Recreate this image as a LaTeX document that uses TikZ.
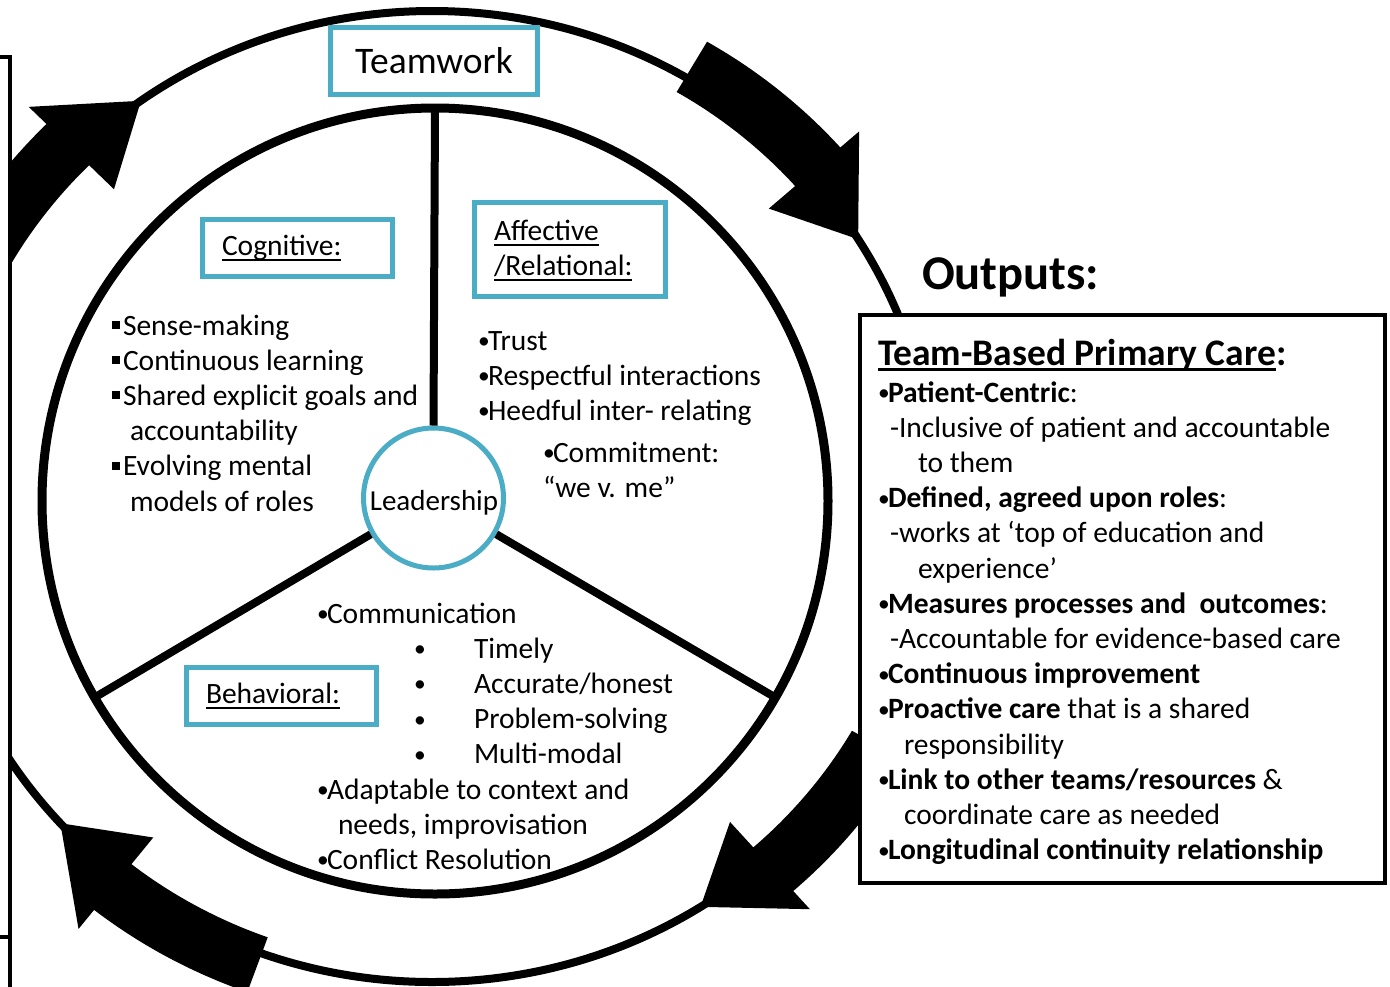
\documentclass[tikz,border=0pt]{standalone}
\usepackage{fontspec}
\setmainfont{Carlito}
\definecolor{frameblue}{HTML}{4BACC6}

% geometry of the outer cycle (ellipse centre and radii, in pt)
\def\ecx{432}
\def\ecy{496.5}
\def\erx{502.5}
\def\ery{485.5}
% radial scales: arrow body (inner/outer) and arrow head wings (inner/outer)
\def\bi{0.965}
\def\bo{1.085}
\def\wi{0.895}
\def\wo{1.135}

\newcommand\bodyfont{\fontsize{29.5pt}{35.2pt}\selectfont}
\newcommand\rows[1]{\begin{tabular}[t]{@{}l@{}}#1\end{tabular}}
\newcommand\sqb{\rule[6pt]{8pt}{8pt}\hspace{3pt}}
\newcommand\bul{\makebox[10pt][l]{\fontsize{23.5pt}{23.5pt}\selectfont\raisebox{1.5pt}{•}}}
\newcommand\undl[2][2pt]{\setbox0=\hbox{#2}\rlap{\rule[-5.5pt]{\wd0}{#1}}\box0}

% curved block arrow running clockwise along the outer cycle:
% #1 tail angle, #2 angle of the head base, #3 angle of the tip
\newcommand\ringarrow[3]{%
  \fill[black]
    plot[domain=#1:#2,samples=30] ({\ecx+\bo*\erx*cos(\x)},{\ecy+\bo*\ery*sin(\x)})
    -- ({\ecx+\wo*\erx*cos(#2)},{\ecy+\wo*\ery*sin(#2)})
    -- ({\ecx+\erx*cos(#3)},{\ecy+\ery*sin(#3)})
    -- ({\ecx+\wi*\erx*cos(#2)},{\ecy+\wi*\ery*sin(#2)})
    -- plot[domain=#2:#1,samples=30] ({\ecx+\bi*\erx*cos(\x)},{\ecy+\bi*\ery*sin(\x)})
    -- cycle;}

\tikzset{
  cbox/.style={rectangle, draw=frameblue, line width=5pt, fill=white, inner sep=0pt, outer sep=0pt},
  txt/.style={inner sep=0pt, outer sep=0pt, anchor=base west, font=\bodyfont},
  spoke/.style={line width=8pt},
  framebox/.style={rectangle, draw=black, fill=white, inner sep=0pt, outer sep=0pt},
}

\begin{document}
\begin{tikzpicture}[x=1pt,y=-1pt]
\fill[white] (0,0) rectangle (1390,986);
\useasboundingbox (0,0) rectangle (1390,986);

% outer cycle and its four arrows
\draw[line width=8pt] (\ecx,\ecy) ellipse [x radius=502.5pt, y radius=485.5pt];
\ringarrow{-59.7}{-41.5}{-32}
\ringarrow{-153}{-135}{-125.4}
\ringarrow{109.8}{128.3}{137.7}
\ringarrow{30}{48.5}{57.7}

% boxes on either side
\node[framebox, line width=4.5pt, minimum width=80pt, minimum height=880pt, anchor=north east] (inbox) at (10,57) {};
\node[framebox, line width=4.5pt, minimum width=80pt, minimum height=100pt, anchor=north east] (inbox2) at (10,937) {};
\node[framebox, line width=4.5pt, minimum width=525pt, minimum height=568pt] (outbox) at (1122.5,599) {};

% inner circle, spokes and centre
\node[circle, draw, line width=9pt, minimum size=786pt, inner sep=0pt, outer sep=0pt] (ring) at (435,501) {};
\node[circle, draw=frameblue, line width=5pt, fill=white, minimum size=140pt, inner sep=0pt] (lead) at (433.5,498) {};
\draw[spoke] (lead.90) -- (ring.90);
\draw[spoke] (lead.210) -- (ring.210);
\draw[spoke] (lead.330) -- (ring.330);
\node[txt, anchor=base, font=\fontsize{29pt}{35pt}\selectfont] (leadtxt) at (434,510) {Leadership};

% headings
\node[cbox, minimum width=207pt, minimum height=67pt, font=\fontsize{37.5pt}{45pt}\selectfont] (team) at (434,61) {Teamwork};
\node[cbox, minimum width=190pt, minimum height=57pt] (cog) at (297.5,248) {};
\node[cbox, minimum width=191pt, minimum height=94pt] (aff) at (570,249.5) {};
\node[cbox, minimum width=190pt, minimum height=57pt] (beh) at (281.5,696) {};
\node[txt] (coglbl) at (222,255) {\undl{Cognitive:}};
\node[txt] (afflbl) at (494,240) {\rows{\undl{Affective}\\ \undl{/Relational:}}};
\node[txt] (behlbl) at (206,703) {\undl{Behavioral:}};

% contents of the three sectors
\node[txt] (cogtxt) at (112,335) {\rows{%
  \sqb Sense-making\\
  \sqb Continuous learning\\
  \sqb Shared explicit goals and\\
  \hspace{18pt}accountability\\
  \sqb Evolving mental\\
  \hspace{18pt}models of roles}};
\node[txt] (afftxt) at (478,350) {\rows{%
  \bul Trust\\
  \bul Respectful interactions\\
  \bul Heedful inter- relating}};
\node[txt] (committxt) at (543,462) {\rows{%
  \bul Commitment:\\
  “we v. me”}};
\node[txt] (behtxt) at (317,623) {\rows{%
  \bul Communication\\
  \hspace{97pt}\makebox[60pt][l]{\bul}Timely\\
  \hspace{97pt}\makebox[60pt][l]{\bul}Accurate/honest\\
  \hspace{97pt}\makebox[60pt][l]{\bul}Problem-solving\\
  \hspace{97pt}\makebox[60pt][l]{\bul}Multi-modal\\
  \bul Adaptable to context and\\
  \hspace{21pt}needs, improvisation\\
  \bul Conflict Resolution}};

% outputs
\node[txt, font=\bfseries\fontsize{48.5pt}{58pt}\selectfont] (outhead) at (922,289) {Outputs:};
\node[txt, font=\bfseries\fontsize{37.5pt}{45pt}\selectfont] (tbpc) at (878,365) {\undl[2.5pt]{Team-Based Primary Care}:};
\node[txt] (outtxt) at (878,402) {\rows{%
  \bul\textbf{Patient-Centric}:\\
  \hspace{12pt}-Inclusive of patient and accountable\\
  \hspace{40pt}to them\\
  \bul\textbf{Defined, agreed upon roles}:\\
  \hspace{12pt}-works at ‘top of education and\\
  \hspace{40pt}experience’\\
  \bul\textbf{Measures processes and\ \ outcomes}:\\
  \hspace{12pt}-Accountable for evidence-based care\\
  \bul\textbf{Continuous improvement}\\
  \bul\textbf{Proactive care} that is a shared\\
  \hspace{26pt}responsibility\\
  \bul\textbf{Link to other teams/resources} \&\\
  \hspace{26pt}coordinate care as needed\\
  \bul\textbf{Longitudinal continuity relationship}}};
\end{tikzpicture}
\end{document}
